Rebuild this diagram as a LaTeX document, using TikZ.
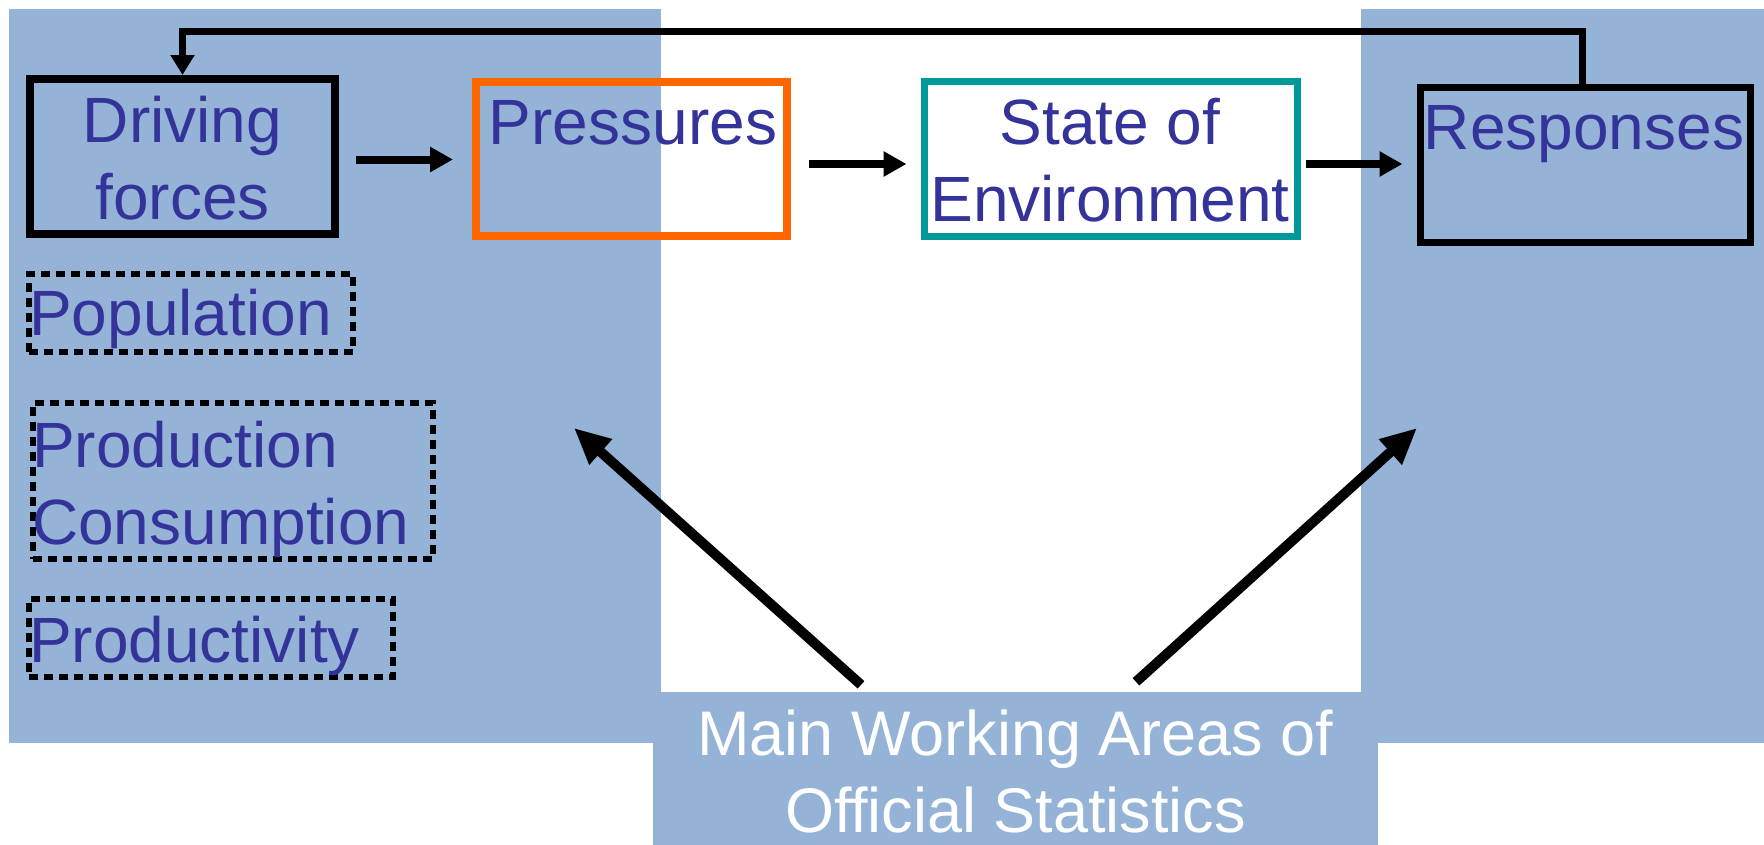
\documentclass[tikz,border=0pt]{standalone}
\usepackage{fontspec}
\setmainfont{Liberation Sans}
\usetikzlibrary{arrows.meta}
\definecolor{panel}{RGB}{149,179,215}
\definecolor{ink}{RGB}{51,51,153}
\definecolor{pressorange}{RGB}{255,102,0}
\definecolor{stateteal}{RGB}{0,153,153}
\newcommand{\labelfont}{\fontsize{64}{77}\selectfont}
\newcommand{\areafont}{\fontsize{63}{77}\selectfont}
\newcommand{\firstline}{\rule{0pt}{50pt}}
\tikzstyle{box}    = [draw, rectangle, inner sep=0pt, line width=8pt]
\tikzstyle{dotbox} = [draw, rectangle, inner sep=0pt, line width=5.5pt, dash pattern=on 9pt off 6pt]
\tikzstyle{txt}    = [inner sep=0pt, text=ink, font=\labelfont]
\tikzstyle{arr}    = [draw, line width=8pt, -{Triangle[length=23pt, width=24pt]}]
\tikzstyle{bigarr} = [draw, line width=10pt, -{Triangle[length=36pt, width=32pt]}]
\begin{document}
\begin{tikzpicture}[x=1pt, y=-1pt]
\useasboundingbox (0,0) rectangle (1764,844);

% panels
\fill [panel] (9,9) rectangle (661,743);
\fill [panel] (1361,9) rectangle (1764,743);

% boxes
\node [box, minimum width=305pt, minimum height=155pt]                        (drive) at (182.5,156.5) {};
\node [box, draw=pressorange, minimum width=311pt, minimum height=154pt]      (press) at (631.5,159)   {};
\node [box, draw=stateteal, line width=7pt, minimum width=373pt, minimum height=155pt] (state) at (1110.5,159) {};
\node [box, line width=7pt, minimum width=330pt, minimum height=155pt]        (resp)  at (1585,164.5)  {};

% dotted boxes
\node [dotbox, minimum width=324pt, minimum height=78pt]  (pop)  at (191,313) {};
\node [dotbox, minimum width=400pt, minimum height=156pt] (prod) at (233,481) {};
\node [dotbox, minimum width=364pt, minimum height=78pt]  (prty) at (211,638) {};

% bottom box
\node [fill=panel, inner sep=0pt, minimum width=725pt, minimum height=168pt] (main) at (1015.5,776) {};

% texts
\node [txt, align=center, anchor=north]  (drivetxt) at (182.5,92) {\firstline Driving\\forces};
\node [txt, anchor=base]                 (presstxt) at (633,144)  {Pressures};
\node [txt, align=center, anchor=north]  (statetxt) at (1110,94)  {\firstline State of\\Environment};
\node [txt, anchor=base]                 (resptxt)  at (1584,149) {Responses};
\node [txt, anchor=base west]            (poptxt)   at (29,335)   {Population};
\node [txt, align=left, anchor=north west] (prodtxt) at (32,417)  {\firstline Production\\Consumption};
\node [txt, anchor=base west]            (prtytxt)  at (29,662)   {Productivity};
\node [txt, text=white, font=\areafont, align=center, anchor=north] (maintxt) at (1015.5,705) {\firstline Main Working Areas of\\Official Statistics};

% edges
\draw [arr, shorten <=17pt, shorten >=19pt] ([yshift=-3pt]drive.east) -- ([yshift=-3pt]drive.east -| press.west);
\draw [arr, shorten <=18pt, shorten >=14pt] ([yshift=-5pt]press.east) -- ([yshift=-5pt]state.west);
\draw [arr, shorten <=5pt, shorten >=14pt]  ([yshift=-5pt]state.east) -- ([yshift=-5pt]state.east -| resp.west);
\draw [line width=7pt, -{Triangle[length=20pt, width=23pt]}] ([xshift=-3pt]resp.north) -- ++(0,-52.5) -| (drive.north);

% arrows to the working areas
\coordinate (ltip) at (574,428);
\coordinate (rtip) at (1417,428);
\draw [bigarr] ([xshift=-154.5pt, yshift=7pt]main.north) -- (ltip);
\draw [bigarr] ([xshift=120.5pt, yshift=10pt]main.north) -- (rtip);

\end{tikzpicture}
\end{document}
